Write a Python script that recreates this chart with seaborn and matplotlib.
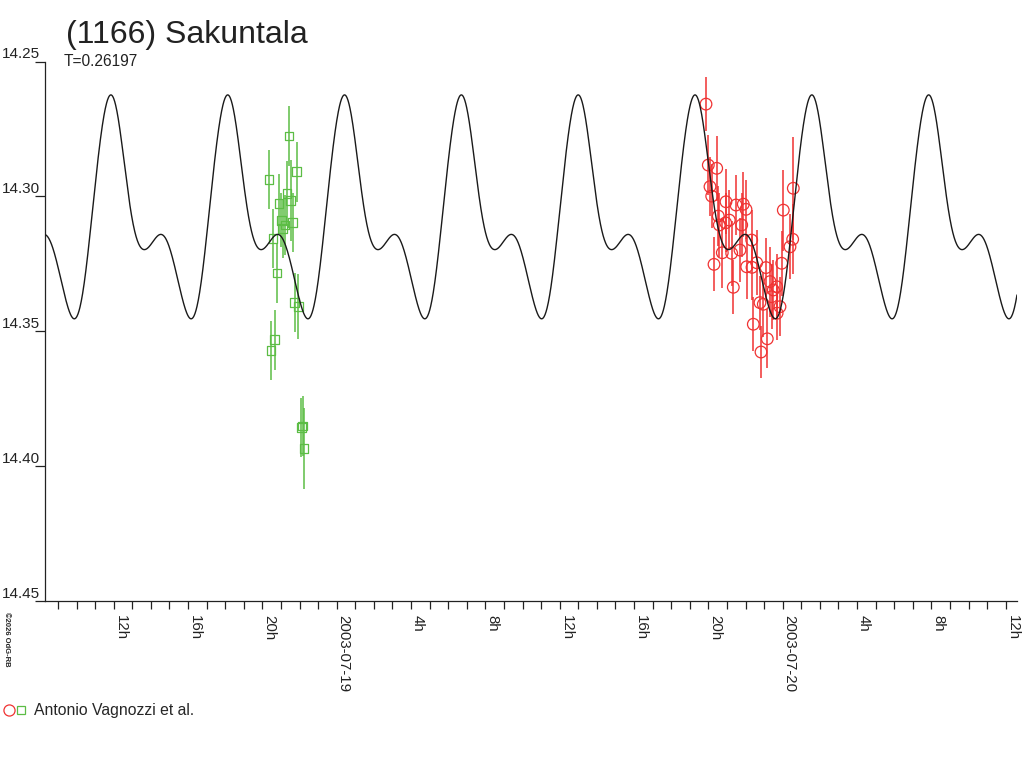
import numpy as np
import pandas as pd
import seaborn as sns
import matplotlib.pyplot as plt
from matplotlib.lines import Line2D
from matplotlib.legend_handler import HandlerTuple

# rotation model: period, time of a maximum (hours after 2003-07-18 00:00 UT), Fourier terms
period_days = 0.26197
epoch_hours = 11.83
mean_mag = 14.30960
cos_terms = [-0.02683, -0.01904, -0.00113, -0.00013, -0.00008]
sin_terms = [-0.00967, 0.00529, 0.00013, -0.00041, -0.00030]

# session 1 (green squares), hours after 2003-07-18 00:00 UT
green_hours = [20.357, 20.465, 20.572, 20.664, 20.787, 20.895, 21.019, 21.094, 21.218, 21.326,
               21.433, 21.525, 21.632, 21.740, 21.848, 21.934, 22.095, 22.170, 22.240]
green_mag = [14.2937, 14.3572, 14.3157, 14.3532, 14.3284, 14.3027, 14.3089, 14.3118, 14.3106, 14.2990,
             14.2776, 14.3016, 14.3098, 14.3394, 14.2909, 14.3409, 14.3856, 14.3851, 14.3935]
green_err = [0.011, 0.011, 0.011, 0.011, 0.011, 0.011, 0.010, 0.011, 0.011, 0.012,
             0.011, 0.015, 0.011, 0.011, 0.011, 0.012, 0.011, 0.011, 0.015]

# session 2 (red circles)
red_hours = [43.873, 43.997, 44.088, 44.180, 44.304, 44.449, 44.535, 44.589, 44.750, 44.930,
             44.949, 45.127, 45.256, 45.342, 45.487, 45.702, 45.794, 45.880, 46.025, 46.063,
             46.332, 46.350, 46.419, 46.601, 46.778, 46.833, 46.956, 47.102, 47.172, 47.317,
             47.408, 47.495, 47.678, 47.700, 47.855, 47.947, 48.033, 48.393, 48.538, 48.571]
red_mag = [14.2658, 14.2884, 14.2964, 14.2999, 14.3252, 14.2896, 14.3073, 14.3106, 14.3209, 14.3098,
           14.3020, 14.3088, 14.3211, 14.3337, 14.3032, 14.3199, 14.3106, 14.3029, 14.3048, 14.3261,
           14.3162, 14.3263, 14.3474, 14.3246, 14.3394, 14.3577, 14.3400, 14.3264, 14.3528, 14.3316,
           14.3372, 14.3347, 14.3335, 14.3433, 14.3409, 14.3248, 14.3051, 14.3187, 14.3159, 14.2970]
red_err = [0.010, 0.011, 0.011, 0.012, 0.010, 0.012, 0.011, 0.012, 0.013, 0.011,
           0.012, 0.011, 0.012, 0.010, 0.011, 0.012, 0.012, 0.012, 0.011, 0.012,
           0.011, 0.012, 0.010, 0.012, 0.010, 0.0095, 0.012, 0.011, 0.011, 0.013,
           0.012, 0.011, 0.012, 0.010, 0.011, 0.012, 0.015, 0.012, 0.013, 0.019]

x_min, x_max = 8.30, 60.61
y_ticks = [14.25, 14.30, 14.35, 14.40, 14.45]

green = "#5cbd45"
red = "#f03232"

sns.set_style("white")
plt.rcParams['font.family'] = ['Liberation Sans', 'DejaVu Sans']

# model curve
t = np.linspace(x_min, x_max, 3000)
phase = (t - epoch_hours) / (period_days * 24)
m = np.full_like(t, mean_mag)
for k, (a, b) in enumerate(zip(cos_terms, sin_terms), start=1):
    m += a * np.cos(2 * np.pi * k * phase) + b * np.sin(2 * np.pi * k * phase)
model = pd.DataFrame({"hours": t, "mag": m})
obs_g = pd.DataFrame({"hours": green_hours, "mag": green_mag, "err": green_err})
obs_r = pd.DataFrame({"hours": red_hours, "mag": red_mag, "err": red_err})

fig = plt.figure(figsize=(10.24, 7.68), dpi=100)
ax = fig.add_axes([45 / 1024, 1 - 601 / 768, 972 / 1024, 539.5 / 768])

ax.errorbar(obs_g["hours"], obs_g["mag"], yerr=obs_g["err"], fmt="none", ecolor=green, elinewidth=1.1, zorder=2)
ax.errorbar(obs_r["hours"], obs_r["mag"], yerr=obs_r["err"], fmt="none", ecolor=red, elinewidth=1.1, zorder=2)
sns.scatterplot(data=obs_g, x="hours", y="mag", marker="s", s=40, facecolor="none",
                edgecolor=green, linewidth=0.9, ax=ax, zorder=3)
sns.scatterplot(data=obs_r, x="hours", y="mag", marker="o", s=70, facecolor="none",
                edgecolor=red, linewidth=0.9, ax=ax, zorder=3)
sns.lineplot(data=model, x="hours", y="mag", color="#1a1a1a", linewidth=1.0, ax=ax, zorder=4)

ax.set_xlim(x_min, x_max)
ax.set_ylim(14.45, 14.25)
ax.set_xlabel("")
ax.set_ylabel("")
for s in ["top", "right"]:
    ax.spines[s].set_visible(False)
for s in ["left", "bottom"]:
    ax.spines[s].set_color("#222222")
    ax.spines[s].set_linewidth(0.9)

hour_ticks = list(range(9, 61))
labels = []
for h in hour_ticks:
    if h % 4:
        labels.append("")
    elif h % 24 == 0:
        labels.append(f"2003-07-{18 + h // 24}")
    else:
        labels.append(f"{h % 24}h")
ax.set_xticks(hour_ticks)
ax.set_xticklabels(labels, rotation=270, ha="left", va="top", fontsize=10.8, color="#222222")
ax.tick_params(axis="x", direction="out", length=6, width=0.9, color="#222222", pad=4, bottom=True)

ax.set_yticks(y_ticks)
ax.set_yticklabels([f"{v:.2f}" for v in y_ticks], va="bottom", fontsize=11, color="#222222")
ax.tick_params(axis="y", direction="out", length=7.2, width=0.9, color="#222222", pad=-3.6, left=True)
ax.grid(False)

fig.text(66 / 1024, 1 - 43 / 768, "(1166) Sakuntala", fontsize=23, color="#222222", va="baseline")
fig.text(64 / 1024, 1 - 66 / 768, "T=0.26197", fontsize=11.2, color="#222222", va="baseline")
fig.text(3 / 1024, 1 - 612 / 768, "©2026 OdG-RB", fontsize=5.5, rotation=270, ha="left", va="top",
         color="#222222", fontweight="bold")

h_r = Line2D([], [], marker="o", linestyle="none", markersize=8, markerfacecolor="none",
             markeredgecolor=red, markeredgewidth=0.9)
h_g = Line2D([], [], marker="s", linestyle="none", markersize=5.6, markerfacecolor="none",
             markeredgecolor=green, markeredgewidth=0.9)
fig.legend(handles=[(h_r, h_g)], labels=["Antonio Vagnozzi et al."],
           handler_map={tuple: HandlerTuple(ndivide=None, pad=0.2)},
           loc="center left", bbox_to_anchor=(4 / 1024, 1 - 711 / 768), frameon=False,
           handlelength=1.4, handletextpad=0.5, borderaxespad=0, borderpad=0, fontsize=11.3)

fig.savefig("out.png", dpi=100)
